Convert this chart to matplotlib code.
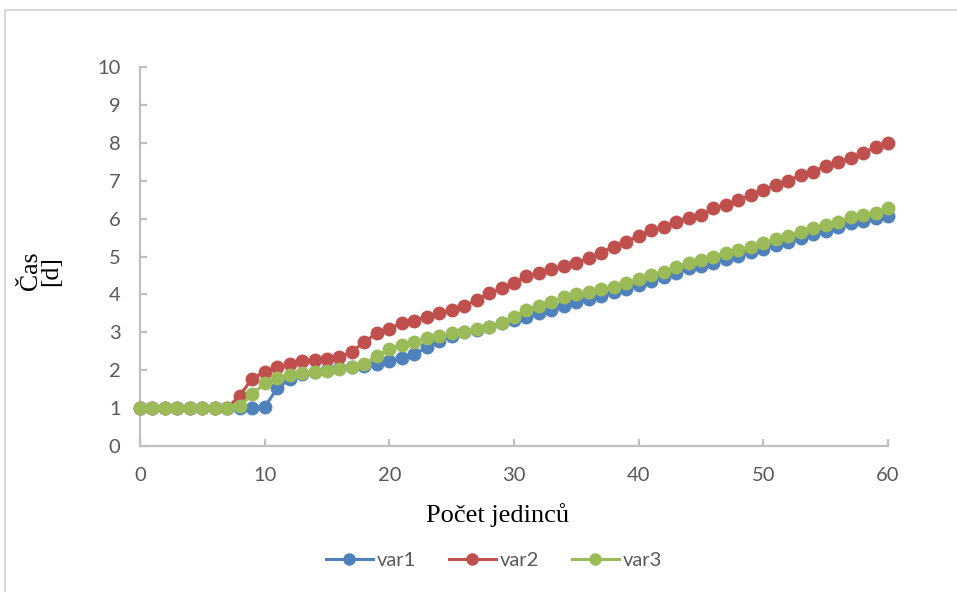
import numpy as np
import matplotlib.pyplot as plt
from matplotlib.patches import Rectangle

# =====================================================
# DATA
# =====================================================

pocet = list(range(0, 61))

var1 = [1.0, 1.0, 1.0, 1.0, 1.0, 1.0, 1.0, 1.0, 1.0, 1.0,
        1.03, 1.52, 1.76, 1.9, 1.95, 2.0, 2.05, 2.08, 2.12, 2.16,
        2.24, 2.33, 2.42, 2.6, 2.78, 2.9, 3.0, 3.05, 3.15, 3.25,
        3.32, 3.4, 3.5, 3.6, 3.7, 3.8, 3.88, 3.97, 4.06, 4.15,
        4.25, 4.36, 4.45, 4.56, 4.69, 4.76, 4.84, 4.93, 5.02, 5.11,
        5.2, 5.3, 5.39, 5.5, 5.59, 5.68, 5.77, 5.88, 5.94, 6.01,
        6.08]

var2 = [1.0, 1.0, 1.0, 1.0, 1.0, 1.0, 1.0, 1.0, 1.33, 1.78,
        1.96, 2.08, 2.16, 2.23, 2.27, 2.29, 2.35, 2.49, 2.75, 2.97,
        3.1, 3.24, 3.31, 3.41, 3.5, 3.59, 3.69, 3.85, 4.03, 4.16,
        4.31, 4.48, 4.56, 4.66, 4.75, 4.84, 4.95, 5.1, 5.26, 5.39,
        5.54, 5.7, 5.79, 5.9, 6.01, 6.09, 6.27, 6.36, 6.49, 6.62,
        6.75, 6.89, 7.0, 7.15, 7.24, 7.39, 7.5, 7.59, 7.74, 7.88,
        7.99]

var3 = [1.0, 1.0, 1.0, 1.0, 1.0, 1.0, 1.0, 1.0, 1.06, 1.36,
        1.66, 1.79, 1.87, 1.93, 1.96, 1.99, 2.02, 2.08, 2.16, 2.38,
        2.56, 2.66, 2.75, 2.84, 2.9, 2.97, 3.02, 3.08, 3.15, 3.24,
        3.4, 3.6, 3.7, 3.8, 3.92, 4.01, 4.07, 4.13, 4.2, 4.29,
        4.4, 4.51, 4.6, 4.72, 4.84, 4.91, 4.99, 5.08, 5.17, 5.26,
        5.35, 5.45, 5.54, 5.65, 5.74, 5.83, 5.92, 6.03, 6.09, 6.16,
        6.27]

serie = [("var1", var1, "#4F81BD"),
         ("var2", var2, "#C0504D"),
         ("var3", var3, "#9BBB59")]

x_ticks = [0, 10, 20, 30, 40, 50, 60]
y_ticks = list(range(0, 11))

# =====================================================
# FIGURE
# =====================================================

fig = plt.figure(figsize=(9.57, 5.92), dpi=100)
ax = fig.add_axes([140 / 957, 1 - 446 / 592, 748 / 957, 379 / 592])

for name, vals, col in serie:
    ax.plot(pocet, vals, color=col, lw=2.2, marker="o", markersize=10,
            markeredgewidth=0, label=name, clip_on=False)

ax.set_xlim(0, 60)
ax.set_ylim(0, 10)
ax.set_xticks(x_ticks)
ax.set_yticks(y_ticks)

axis_col = "#BFBFBF"
for s in ["top", "right"]:
    ax.spines[s].set_visible(False)
for s in ["left", "bottom"]:
    ax.spines[s].set_color(axis_col)
    ax.spines[s].set_linewidth(1.6)
    ax.spines[s].set_zorder(0.5)

ax.tick_params(axis="both", direction="in", length=5, width=1.6,
               color=axis_col, labelcolor="#595959", labelsize=14.5)
ax.tick_params(axis="y", pad=14)
ax.tick_params(axis="x", pad=15)
for lab in ax.get_xticklabels() + ax.get_yticklabels():
    lab.set_family("Lato")

fig.text(498 / 957, 1 - 515 / 592, "Počet jedinců", family="Liberation Serif",
         fontsize=19, ha="center", va="center")
fig.text(41 / 957, 1 - 271 / 592, "Čas\n[d]", family="Liberation Serif",
         fontsize=18.5, ha="center", va="center", rotation=90, linespacing=0.9)

leg = fig.legend(loc="center", bbox_to_anchor=(494 / 957, 1 - 560 / 592),
                 ncol=3, frameon=False, handlelength=2.35, columnspacing=1.6,
                 handletextpad=0.2, prop={"family": "Lato", "size": 14.5})
for t in leg.get_texts():
    t.set_color("#595959")
for h in leg.legend_handles:
    h.set_markersize(9)

# light border of the chart area
fig.patches.append(Rectangle((5 / 957, -0.1), 1.2, 1.1 - 10 / 592,
                             transform=fig.transFigure, fill=False,
                             edgecolor="#D9D9D9", lw=1.5))

fig.savefig("out.png", dpi=100)
